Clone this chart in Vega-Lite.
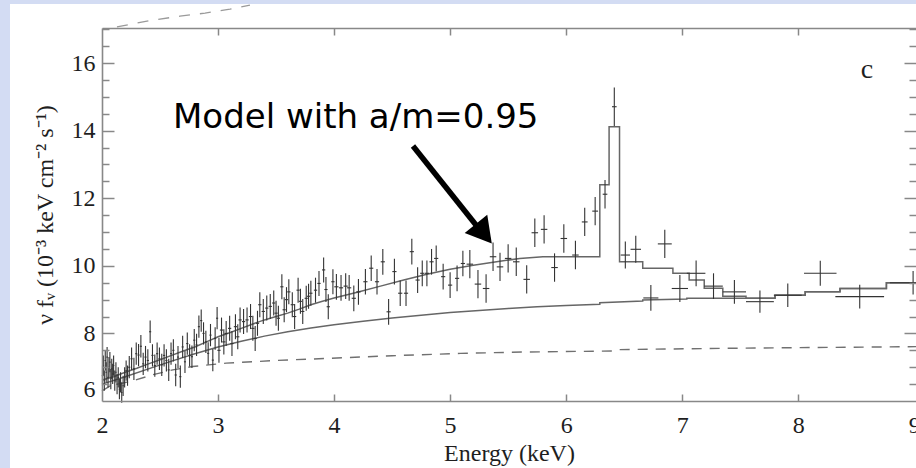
{
  "$schema": "https://vega.github.io/schema/vega-lite/v6.json",
  "width": 814,
  "height": 373,
  "autosize": {"type": "none"},
  "padding": {"left": 102, "top": 28, "right": 0, "bottom": 67},
  "background": "#d3dcf3",
  "config": {
    "view": {"stroke": null},
    "axis": {"grid": false, "domainColor": "#888888", "domainWidth": 1.6, "tickColor": "#888888", "tickWidth": 1.5, "labelFont": "Liberation Serif", "labelColor": "#1e1e1e", "titleFont": "Liberation Serif", "titleColor": "#1e1e1e", "titleFontWeight": "normal"}
  },
  "datasets": {
    "points": [
      {"E":2.004,"V":6.75,"dE":0.006,"dV":0.3},{"E":2.012,"V":7.05,"dE":0.006,"dV":0.3},{"E":2.020,"V":6.6,"dE":0.006,"dV":0.3},{"E":2.028,"V":7.2,"dE":0.006,"dV":0.3},{"E":2.036,"V":6.85,"dE":0.006,"dV":0.3},{"E":2.044,"V":7.3,"dE":0.006,"dV":0.3},{"E":2.052,"V":6.7,"dE":0.006,"dV":0.3},{"E":2.060,"V":7.0,"dE":0.006,"dV":0.3},{"E":2.068,"V":7.15,"dE":0.006,"dV":0.3},{"E":2.076,"V":6.65,"dE":0.006,"dV":0.3},{"E":2.084,"V":6.95,"dE":0.006,"dV":0.3},{"E":2.092,"V":6.8,"dE":0.006,"dV":0.3},{"E":2.100,"V":7.05,"dE":0.006,"dV":0.3},{"E":2.110,"V":6.6,"dE":0.006,"dV":0.3},{"E":2.120,"V":6.85,"dE":0.006,"dV":0.3},{"E":2.130,"V":6.5,"dE":0.006,"dV":0.3},{"E":2.140,"V":6.7,"dE":0.006,"dV":0.3},{"E":2.150,"V":6.35,"dE":0.006,"dV":0.3},{"E":2.160,"V":6.55,"dE":0.006,"dV":0.3},{"E":2.170,"V":6.25,"dE":0.006,"dV":0.3},{"E":2.182,"V":6.45,"dE":0.006,"dV":0.3},{"E":2.195,"V":6.7,"dE":0.006,"dV":0.3},{"E":2.208,"V":6.9,"dE":0.006,"dV":0.3},{"E":2.220,"V":6.75,"dE":0.006,"dV":0.3},
      {"E":2.235,"V":7.0,"dE":0.009,"dV":0.33},{"E":2.255,"V":7.25,"dE":0.009,"dV":0.33},{"E":2.275,"V":6.95,"dE":0.009,"dV":0.33},{"E":2.295,"V":7.4,"dE":0.009,"dV":0.33},{"E":2.315,"V":7.36,"dE":0.009,"dV":0.33},{"E":2.335,"V":7.62,"dE":0.009,"dV":0.33},{"E":2.355,"V":7.1,"dE":0.009,"dV":0.33},{"E":2.375,"V":7.3,"dE":0.009,"dV":0.33},{"E":2.395,"V":7.2,"dE":0.009,"dV":0.33},{"E":2.415,"V":8.05,"dE":0.009,"dV":0.33},{"E":2.435,"V":7.35,"dE":0.009,"dV":0.33},{"E":2.455,"V":7.05,"dE":0.009,"dV":0.33},{"E":2.475,"V":7.4,"dE":0.009,"dV":0.33},{"E":2.495,"V":7.25,"dE":0.009,"dV":0.33},{"E":2.515,"V":7.07,"dE":0.009,"dV":0.33},{"E":2.535,"V":7.35,"dE":0.009,"dV":0.33},{"E":2.555,"V":7.2,"dE":0.009,"dV":0.33},{"E":2.575,"V":6.92,"dE":0.009,"dV":0.33},{"E":2.595,"V":7.4,"dE":0.009,"dV":0.33},{"E":2.615,"V":7.5,"dE":0.009,"dV":0.33},{"E":2.635,"V":6.77,"dE":0.009,"dV":0.33},{"E":2.655,"V":7.3,"dE":0.009,"dV":0.33},{"E":2.675,"V":6.72,"dE":0.009,"dV":0.33},{"E":2.695,"V":7.6,"dE":0.009,"dV":0.33},{"E":2.715,"V":7.16,"dE":0.009,"dV":0.33},{"E":2.735,"V":7.7,"dE":0.009,"dV":0.33},{"E":2.755,"V":7.35,"dE":0.009,"dV":0.33},{"E":2.775,"V":7.31,"dE":0.009,"dV":0.33},{"E":2.795,"V":7.8,"dE":0.009,"dV":0.33},{"E":2.815,"V":7.66,"dE":0.009,"dV":0.33},{"E":2.835,"V":8.2,"dE":0.009,"dV":0.33},{"E":2.855,"V":8.38,"dE":0.009,"dV":0.33},{"E":2.875,"V":8.0,"dE":0.009,"dV":0.33},{"E":2.895,"V":7.75,"dE":0.009,"dV":0.33},{"E":2.915,"V":7.41,"dE":0.009,"dV":0.33},{"E":2.935,"V":7.95,"dE":0.009,"dV":0.33},{"E":2.955,"V":7.21,"dE":0.009,"dV":0.33},{"E":2.975,"V":7.85,"dE":0.009,"dV":0.33},{"E":2.992,"V":8.45,"dE":0.009,"dV":0.33},
      {"E":3.008,"V":7.5,"dE":0.014,"dV":0.37},{"E":3.03,"V":8.1,"dE":0.014,"dV":0.37},{"E":3.05,"V":7.75,"dE":0.014,"dV":0.37},{"E":3.07,"V":8.0,"dE":0.014,"dV":0.37},{"E":3.10,"V":8.15,"dE":0.014,"dV":0.37},{"E":3.12,"V":7.7,"dE":0.014,"dV":0.37},{"E":3.15,"V":8.2,"dE":0.014,"dV":0.37},{"E":3.17,"V":7.9,"dE":0.014,"dV":0.37},{"E":3.19,"V":8.4,"dE":0.014,"dV":0.37},{"E":3.22,"V":8.35,"dE":0.014,"dV":0.37},{"E":3.25,"V":8.4,"dE":0.014,"dV":0.37},{"E":3.28,"V":8.5,"dE":0.014,"dV":0.37},{"E":3.30,"V":8.15,"dE":0.014,"dV":0.37},{"E":3.32,"V":7.85,"dE":0.014,"dV":0.37},{"E":3.34,"V":8.3,"dE":0.014,"dV":0.37},{"E":3.36,"V":8.85,"dE":0.014,"dV":0.37},{"E":3.39,"V":8.65,"dE":0.014,"dV":0.37},{"E":3.42,"V":8.75,"dE":0.014,"dV":0.37},{"E":3.45,"V":8.8,"dE":0.014,"dV":0.37},{"E":3.48,"V":8.9,"dE":0.014,"dV":0.37},{"E":3.50,"V":8.6,"dE":0.014,"dV":0.37},{"E":3.52,"V":8.45,"dE":0.014,"dV":0.37},{"E":3.55,"V":9.38,"dE":0.014,"dV":0.37},{"E":3.57,"V":8.7,"dE":0.014,"dV":0.37},{"E":3.59,"V":9.0,"dE":0.014,"dV":0.37},{"E":3.61,"V":9.23,"dE":0.014,"dV":0.37},{"E":3.64,"V":8.85,"dE":0.014,"dV":0.37},{"E":3.66,"V":8.5,"dE":0.014,"dV":0.37},{"E":3.69,"V":9.28,"dE":0.014,"dV":0.37},{"E":3.71,"V":8.95,"dE":0.014,"dV":0.37},{"E":3.73,"V":8.65,"dE":0.014,"dV":0.37},{"E":3.76,"V":9.04,"dE":0.014,"dV":0.37},{"E":3.78,"V":9.1,"dE":0.014,"dV":0.37},{"E":3.80,"V":9.19,"dE":0.014,"dV":0.37},{"E":3.84,"V":9.28,"dE":0.014,"dV":0.37},{"E":3.87,"V":9.48,"dE":0.014,"dV":0.37},{"E":3.91,"V":9.88,"dE":0.014,"dV":0.37},{"E":3.93,"V":9.3,"dE":0.014,"dV":0.37},{"E":3.95,"V":8.79,"dE":0.014,"dV":0.37},{"E":3.99,"V":9.53,"dE":0.014,"dV":0.37},
      {"E":4.02,"V":9.38,"dE":0.018,"dV":0.38},{"E":4.06,"V":9.35,"dE":0.018,"dV":0.38},{"E":4.10,"V":9.4,"dE":0.018,"dV":0.38},{"E":4.13,"V":9.35,"dE":0.018,"dV":0.38},{"E":4.17,"V":9.04,"dE":0.018,"dV":0.38},{"E":4.21,"V":9.23,"dE":0.018,"dV":0.38},{"E":4.27,"V":9.53,"dE":0.018,"dV":0.38},{"E":4.32,"V":9.93,"dE":0.018,"dV":0.38},{"E":4.37,"V":9.53,"dE":0.018,"dV":0.38},{"E":4.42,"V":10.12,"dE":0.018,"dV":0.38},{"E":4.47,"V":8.64,"dE":0.018,"dV":0.38},{"E":4.52,"V":9.83,"dE":0.018,"dV":0.38},{"E":4.57,"V":9.19,"dE":0.018,"dV":0.38},{"E":4.62,"V":9.19,"dE":0.018,"dV":0.38},{"E":4.67,"V":10.42,"dE":0.018,"dV":0.38},{"E":4.72,"V":9.58,"dE":0.018,"dV":0.38},{"E":4.76,"V":9.78,"dE":0.018,"dV":0.38},{"E":4.80,"V":9.78,"dE":0.018,"dV":0.38},{"E":4.84,"V":10.12,"dE":0.018,"dV":0.38},{"E":4.88,"V":10.22,"dE":0.018,"dV":0.38},{"E":4.94,"V":9.68,"dE":0.018,"dV":0.38},{"E":5.00,"V":9.43,"dE":0.018,"dV":0.38},{"E":5.06,"V":9.63,"dE":0.018,"dV":0.38},{"E":5.11,"V":10.07,"dE":0.018,"dV":0.38},
      {"E":5.17,"V":10.05,"dE":0.028,"dV":0.42},{"E":5.24,"V":9.46,"dE":0.028,"dV":0.42},{"E":5.31,"V":9.33,"dE":0.028,"dV":0.42},{"E":5.37,"V":10.27,"dE":0.028,"dV":0.42},{"E":5.43,"V":9.97,"dE":0.028,"dV":0.42},{"E":5.50,"V":10.22,"dE":0.028,"dV":0.42},{"E":5.57,"V":10.12,"dE":0.028,"dV":0.42},{"E":5.66,"V":9.6,"dE":0.028,"dV":0.42},{"E":5.73,"V":10.98,"dE":0.028,"dV":0.42},{"E":5.81,"V":11.08,"dE":0.028,"dV":0.42},{"E":5.90,"V":9.95,"dE":0.028,"dV":0.42},{"E":5.98,"V":10.81,"dE":0.028,"dV":0.42},{"E":6.08,"V":10.32,"dE":0.028,"dV":0.42},{"E":6.16,"V":11.3,"dE":0.025,"dV":0.42},{"E":6.25,"V":11.62,"dE":0.025,"dV":0.42},{"E":6.335,"V":12.12,"dE":0.02,"dV":0.42},{"E":6.415,"V":14.71,"dE":0.02,"dV":0.57},
      {"E":6.51,"V":10.32,"dE":0.04,"dV":0.4},{"E":6.60,"V":10.49,"dE":0.045,"dV":0.4},{"E":6.73,"V":9.05,"dE":0.065,"dV":0.38},{"E":6.85,"V":10.65,"dE":0.06,"dV":0.42},{"E":6.98,"V":9.33,"dE":0.07,"dV":0.4},{"E":7.12,"V":9.78,"dE":0.08,"dV":0.38},{"E":7.27,"V":9.4,"dE":0.08,"dV":0.38},{"E":7.45,"V":9.23,"dE":0.1,"dV":0.35},{"E":7.67,"V":8.94,"dE":0.12,"dV":0.33},{"E":7.91,"V":9.13,"dE":0.12,"dV":0.35},{"E":8.19,"V":9.78,"dE":0.14,"dV":0.37},{"E":8.53,"V":9.09,"dE":0.21,"dV":0.35},{"E":8.99,"V":9.5,"dE":0.2,"dV":0.35}
    ],
    "model": [
      {"E":2.0,"V":6.62},{"E":2.1,"V":6.72},{"E":2.2,"V":6.85},{"E":2.3,"V":6.97},{"E":2.4,"V":7.1},{"E":2.5,"V":7.22},{"E":2.6,"V":7.35},{"E":2.7,"V":7.48},{"E":2.8,"V":7.6},{"E":2.9,"V":7.75},{"E":3.0,"V":7.9},{"E":3.1,"V":8.02},{"E":3.2,"V":8.15},{"E":3.3,"V":8.28},{"E":3.4,"V":8.4},{"E":3.5,"V":8.5},{"E":3.6,"V":8.6},{"E":3.7,"V":8.72},{"E":3.8,"V":8.85},{"E":3.9,"V":8.95},{"E":4.0,"V":9.05},{"E":4.2,"V":9.22},{"E":4.4,"V":9.4},{"E":4.6,"V":9.58},{"E":4.8,"V":9.75},{"E":5.0,"V":9.9},{"E":5.2,"V":10.02},{"E":5.4,"V":10.12},{"E":5.6,"V":10.22},{"E":5.8,"V":10.27},{"E":6.29,"V":10.27},
      {"E":6.2901,"V":12.4},{"E":6.37,"V":12.4},{"E":6.3701,"V":14.12},{"E":6.46,"V":14.12},{"E":6.4601,"V":10.12},{"E":6.66,"V":10.12},{"E":6.6601,"V":9.93},{"E":6.92,"V":9.93},{"E":6.9201,"V":9.78},{"E":7.06,"V":9.78},{"E":7.0601,"V":9.58},{"E":7.19,"V":9.58},{"E":7.1901,"V":9.34},{"E":7.35,"V":9.34},{"E":7.3501,"V":9.1},{"E":7.55,"V":9.1},{"E":7.5501,"V":9.04},{"E":7.8,"V":9.04},{"E":7.8001,"V":9.13},{"E":8.06,"V":9.13},{"E":8.0601,"V":9.23},{"E":8.36,"V":9.23},{"E":8.3601,"V":9.33},{"E":8.76,"V":9.33},{"E":8.7601,"V":9.5},{"E":9.05,"V":9.5}
    ],
    "continuum": [
      {"E":2.0,"V":6.5},{"E":2.2,"V":6.72},{"E":2.4,"V":6.95},{"E":2.6,"V":7.18},{"E":2.8,"V":7.4},{"E":3.0,"V":7.6},{"E":3.2,"V":7.77},{"E":3.4,"V":7.92},{"E":3.6,"V":8.05},{"E":3.8,"V":8.16},{"E":4.0,"V":8.26},{"E":4.25,"V":8.36},{"E":4.5,"V":8.46},{"E":4.75,"V":8.54},{"E":5.0,"V":8.62},{"E":5.25,"V":8.68},{"E":5.5,"V":8.74},{"E":5.75,"V":8.79},{"E":6.0,"V":8.83},{"E":6.29,"V":8.86},{"E":6.2901,"V":8.91},{"E":6.66,"V":8.96},{"E":6.6601,"V":8.99},{"E":7.04,"V":9.02},{"E":7.0401,"V":9.04},{"E":7.8,"V":9.04},{"E":7.8001,"V":9.13},{"E":8.06,"V":9.13},{"E":8.0601,"V":9.23},{"E":8.36,"V":9.23},{"E":8.3601,"V":9.33},{"E":8.76,"V":9.33},{"E":8.7601,"V":9.5},{"E":9.05,"V":9.5}
    ],
    "dashed": [
      {"E":2.0,"V":6.3},{"E":2.07,"V":6.45},{"E":2.27,"V":6.6},{"E":2.44,"V":6.78},{"E":2.61,"V":6.92},{"E":2.78,"V":7.02},{"E":3.07,"V":7.12},{"E":3.5,"V":7.2},{"E":3.94,"V":7.26},{"E":4.5,"V":7.34},{"E":5.09,"V":7.41},{"E":5.64,"V":7.45},{"E":6.4,"V":7.48},{"E":6.45,"V":7.52},{"E":7.37,"V":7.56},{"E":9.05,"V":7.61}
    ],
    "panelAbove": [
      {"E":2.129,"V":17.07},{"E":2.414,"V":17.26},{"E":2.672,"V":17.39},{"E":2.888,"V":17.48},{"E":3.103,"V":17.6},{"E":3.275,"V":17.72}
    ],
    "one": [{}]
  },
  "layer": [
    {
      "data": {"name": "one"},
      "mark": {"type": "rect", "fill": "white", "clip": false},
      "encoding": {
        "x": {"datum": 1.207, "type": "quantitative", "scale": {"domain": [2, 9.015], "nice": false, "zero": false}, "axis": null},
        "x2": {"datum": 9.2},
        "y": {"datum": 3.9, "type": "quantitative", "scale": {"domain": [6, 17.04], "nice": false, "zero": false}, "axis": null},
        "y2": {"datum": 17.75}
      }
    },
    {
      "data": {"name": "panelAbove"},
      "mark": {"type": "line", "color": "#9a9a9a", "strokeWidth": 1.3, "strokeDash": [11, 10], "clip": false},
      "encoding": {
        "x": {"field": "E", "type": "quantitative", "scale": {"domain": [2, 9.015], "nice": false, "zero": false}, "axis": null},
        "y": {"field": "V", "type": "quantitative", "scale": {"domain": [6, 17.04], "nice": false, "zero": false}, "axis": null}
      }
    },
    {
      "data": {"name": "dashed"},
      "mark": {"type": "line", "color": "#707070", "strokeWidth": 1.4, "strokeDash": [10, 8]},
      "encoding": {
        "x": {"field": "E", "type": "quantitative", "scale": {"domain": [2, 9.015], "nice": false, "zero": false},
          "axis": {"orient": "bottom", "zindex": 1, "values": [2, 3, 4, 5, 6, 7, 8, 9], "ticks": false, "domain": true, "labelFontSize": 24, "labelPadding": 12, "labelFlush": false, "labelOverlap": false, "title": "Energy (keV)", "titleFontSize": 24, "titlePadding": 4}},
        "y": {"field": "V", "type": "quantitative", "scale": {"domain": [6, 17.04], "nice": false, "zero": false},
          "axis": {"orient": "left", "zindex": 1, "values": [6, 8, 10, 12, 14, 16], "ticks": false, "domain": true, "labelFontSize": 24, "labelPadding": 7, "labelFlush": true, "labelOverlap": false, "title": "ν fᵥ (10⁻³ keV cm⁻² s⁻¹)", "titleFontSize": 24, "titlePadding": 14}}
      }
    },
    {
      "data": {"name": "continuum"},
      "mark": {"type": "line", "color": "#666666", "strokeWidth": 1.5},
      "encoding": {
        "x": {"field": "E", "type": "quantitative", "scale": {"domain": [2, 9.015], "nice": false, "zero": false},
          "axis": {"orient": "bottom", "zindex": 1, "values": [3, 4, 5, 6, 7, 8], "labels": false, "domain": false, "tickSize": -7, "title": null}},
        "y": {"field": "V", "type": "quantitative", "scale": {"domain": [6, 17.04], "nice": false, "zero": false},
          "axis": {"orient": "left", "zindex": 1, "values": [8, 10, 12, 14, 16], "labels": false, "domain": false, "tickSize": -12, "title": null}}
      }
    },
    {
      "data": {"name": "model"},
      "mark": {"type": "line", "color": "#666666", "strokeWidth": 1.5},
      "encoding": {
        "x": {"field": "E", "type": "quantitative", "scale": {"domain": [2, 9.015], "nice": false, "zero": false},
          "axis": {"orient": "top", "zindex": 1, "values": [3, 4, 5, 6, 7, 8], "labels": false, "domain": true, "tickSize": -7, "title": null}},
        "y": {"field": "V", "type": "quantitative", "scale": {"domain": [6, 17.04], "nice": false, "zero": false},
          "axis": {"orient": "left", "zindex": 1, "values": [6.5, 7, 7.5, 8.5, 9, 9.5, 10.5, 11, 11.5, 12.5, 13, 13.5, 14.5, 15, 15.5, 16.5, 17], "labels": false, "domain": false, "tickSize": -7, "title": null}}
      }
    },
    {
      "data": {"name": "points"},
      "mark": {"type": "errorbar", "color": "#333333", "thickness": 1.1},
      "encoding": {
        "x": {"field": "E", "type": "quantitative", "scale": {"domain": [2, 9.015], "nice": false, "zero": false}, "axis": null},
        "xError": {"field": "dE"},
        "y": {"field": "V", "type": "quantitative", "scale": {"domain": [6, 17.04], "nice": false, "zero": false}, "axis": null}
      }
    },
    {
      "data": {"name": "points"},
      "mark": {"type": "errorbar", "color": "#333333", "thickness": 1.1},
      "encoding": {
        "x": {"field": "E", "type": "quantitative", "scale": {"domain": [2, 9.015], "nice": false, "zero": false}, "axis": null},
        "y": {"field": "V", "type": "quantitative", "scale": {"domain": [6, 17.04], "nice": false, "zero": false}, "axis": null},
        "yError": {"field": "dV"}
      }
    },
    {
      "data": {"name": "one"},
      "mark": {"type": "text", "text": "Model with a/m=0.95", "font": "DejaVu Sans", "fontSize": 34, "align": "left", "baseline": "alphabetic", "color": "#000000"},
      "encoding": {
        "x": {"datum": 2.612, "type": "quantitative", "scale": {"domain": [2, 9.015], "nice": false, "zero": false}, "axis": null},
        "y": {"datum": 14.07, "type": "quantitative", "scale": {"domain": [6, 17.04], "nice": false, "zero": false}, "axis": null}
      }
    },
    {
      "data": {"name": "one"},
      "mark": {"type": "rule", "color": "#000000", "strokeWidth": 5.5, "strokeCap": "butt"},
      "encoding": {
        "x": {"datum": 4.68, "type": "quantitative", "scale": {"domain": [2, 9.015], "nice": false, "zero": false}, "axis": null},
        "y": {"datum": 13.547, "type": "quantitative", "scale": {"domain": [6, 17.04], "nice": false, "zero": false}, "axis": null},
        "x2": {"datum": 5.223},
        "y2": {"datum": 11.209}
      }
    },
    {
      "data": {"name": "one"},
      "mark": {"type": "point", "shape": "triangle-up", "size": 841, "angle": 141, "filled": true, "color": "#000000", "opacity": 1, "strokeWidth": 0},
      "encoding": {
        "x": {"datum": 5.291, "type": "quantitative", "scale": {"domain": [2, 9.015], "nice": false, "zero": false}, "axis": null},
        "y": {"datum": 10.954, "type": "quantitative", "scale": {"domain": [6, 17.04], "nice": false, "zero": false},
          "axis": {"orient": "right", "zindex": 1, "values": [8, 10, 12, 14, 16], "labels": false, "domain": false, "tickSize": -12, "title": null}}
      }
    },
    {
      "data": {"name": "one"},
      "mark": {"type": "text", "text": "c", "font": "Liberation Serif", "fontSize": 28, "align": "center", "baseline": "alphabetic", "color": "#1e1e1e"},
      "encoding": {
        "x": {"datum": 8.592, "type": "quantitative", "scale": {"domain": [2, 9.015], "nice": false, "zero": false}, "axis": null},
        "y": {"datum": 15.56, "type": "quantitative", "scale": {"domain": [6, 17.04], "nice": false, "zero": false},
          "axis": {"orient": "right", "zindex": 1, "values": [6.5, 7, 7.5, 8.5, 9, 9.5, 10.5, 11, 11.5, 12.5, 13, 13.5, 14.5, 15, 15.5, 16.5, 17], "labels": false, "domain": false, "tickSize": -7, "title": null}}
      }
    }
  ],
  "resolve": {"axis": {"x": "independent", "y": "independent"}}
}
